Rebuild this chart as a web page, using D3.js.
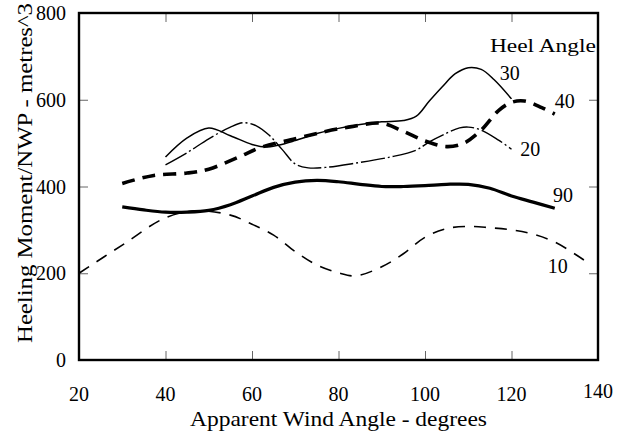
<!DOCTYPE html>
<html><head><meta charset="utf-8">
<script src="https://cdn.jsdelivr.net/npm/d3@7"></script>
<style>
html,body{margin:0;padding:0;background:#fff;}
svg text{font-family:"Liberation Serif","Times New Roman",serif;fill:#000;}
</style></head>
<body><svg id="c" width="625" height="437"></svg>
<script>
// ---- data ----
const xTicks = [20,40,60,80,100,120,140];
const yTicks = [0,200,400,600,800];

const angles10 = [20,30,40,47,55,60,65,70,75,80,84,90,95,100,105,110,115,120,125,130,135,138];
const values10 = [200,265,328,344,334,313,288,250,219,201,194,215,245,283,303,308,305,300,290,272,242,222];

const angles20 = [40,45,50,55,58,61,64,67,70,73,77,84,92,98,101,105,108,110,113,117,120];
const values20 = [450,478,510,537,547,540,518,485,452,443,444,454,468,484,503,523,535,537,530,507,486];

const angles30 = [40,45,50,55,60,63,66,70,75,80,85,90,95,98,101,104,107,110,113,116,120];
const values30 = [468,512,535,517,497,491,495,506,522,534,543,549,552,562,597,630,660,674,670,646,602];

const angles40 = [30,37,45,50,57,62,70,77,83,90,95,100,105,109,113,117,120,123,127,130];
const values40 = [407,425,431,440,468,490,510,527,538,546,527,505,492,500,530,575,594,597,582,567];

const angles90 = [30,35,40,45,50,55,60,65,70,75,80,85,90,95,100,105,110,115,120,125,130];
const values90 = [353,346,341,341,345,358,378,398,410,414,411,405,400,400,402,405,405,396,378,364,350];

const seriesNames = ["10","20","30","40","90"];
const labelAngles = [128.4,122,117.3,130,129.6];
const labelValues = [200,470,645,581,364];

// ---- chart ----
const svg = d3.select("#c");
const x = d3.scaleLinear().domain([20,140]).range([79,598]);
const y = d3.scaleLinear().domain([0,800]).range([360,13]);

const styles = {
  "10": {w:1.6, dash:"12,9"},
  "20": {w:1.4, dash:"24,3,2,3"},
  "30": {w:1.5, dash:null},
  "40": {w:3.6, dash:"13,8"},
  "90": {w:3.2, dash:null}
};
const data = {
  "10": angles10.map((a,i)=>[a,values10[i]]),
  "20": angles20.map((a,i)=>[a,values20[i]]),
  "30": angles30.map((a,i)=>[a,values30[i]]),
  "40": angles40.map((a,i)=>[a,values40[i]]),
  "90": angles90.map((a,i)=>[a,values90[i]])
};

const line = d3.line().x(d=>x(d[0])).y(d=>y(d[1])).curve(d3.curveCatmullRom.alpha(0.5));

// axes (ticks inward)
const tickLen = 9;
svg.append("g").attr("transform",`translate(0,${y(0)})`)
  .call(d3.axisBottom(x).tickValues(xTicks).tickSize(-tickLen).tickFormat(""))
  .call(g=>g.select(".domain").remove())
  .call(g=>g.selectAll("line").attr("stroke","#666"));
svg.append("g").attr("transform",`translate(0,${y(800)})`)
  .call(d3.axisTop(x).tickValues(xTicks).tickSize(-tickLen).tickFormat(""))
  .call(g=>g.select(".domain").remove())
  .call(g=>g.selectAll("line").attr("stroke","#666"));
svg.append("g").attr("transform",`translate(${x(20)},0)`)
  .call(d3.axisLeft(y).tickValues(yTicks).tickSize(-tickLen).tickFormat(""))
  .call(g=>g.select(".domain").remove())
  .call(g=>g.selectAll("line").attr("stroke","#666"));
svg.append("g").attr("transform",`translate(${x(140)},0)`)
  .call(d3.axisRight(y).tickValues(yTicks).tickSize(-tickLen).tickFormat(""))
  .call(g=>g.select(".domain").remove())
  .call(g=>g.selectAll("line").attr("stroke","#666"));

// frame
svg.append("rect").attr("x",x(20)).attr("y",y(800))
  .attr("width",x(140)-x(20)).attr("height",y(0)-y(800))
  .attr("fill","none").attr("stroke","#000").attr("stroke-width",2.4);

// tick labels
svg.append("g").selectAll("text").data(xTicks).join("text")
  .attr("x",d=>x(d)).attr("y",d=>d===140?398:401)
  .attr("text-anchor","middle").attr("font-size",20).text(d=>d);
svg.append("g").selectAll("text").data(yTicks).join("text")
  .attr("x",66).attr("y",d=>y(d)+7)
  .attr("text-anchor","end").attr("font-size",20).text(d=>d);

// axis titles
svg.append("text").attr("x",190).attr("y",426)
  .attr("font-size",21).attr("textLength",297).attr("lengthAdjust","spacingAndGlyphs")
  .text("Apparent Wind Angle - degrees");
svg.append("text").attr("transform","translate(32,343) rotate(-90)")
  .attr("font-size",21).attr("textLength",340).attr("lengthAdjust","spacingAndGlyphs")
  .text("Heeling Moment/NWP - metres^3");

// lines
seriesNames.forEach(n=>{
  svg.append("path").datum(data[n]).attr("d",line)
    .attr("fill","none").attr("stroke","#000")
    .attr("stroke-width",styles[n].w)
    .attr("stroke-dasharray",styles[n].dash)
    .attr("stroke-linecap","butt");
});

// series labels
svg.append("g").selectAll("text").data(seriesNames).join("text")
  .attr("x",(d,i)=>x(labelAngles[i])).attr("y",(d,i)=>y(labelValues[i]))
  .attr("font-size",20).text(d=>d);
svg.append("text").attr("x",x(115)).attr("y",y(710)).attr("font-size",19)
  .attr("textLength",106).attr("lengthAdjust","spacingAndGlyphs").text("Heel Angle");
</script></body></html>
